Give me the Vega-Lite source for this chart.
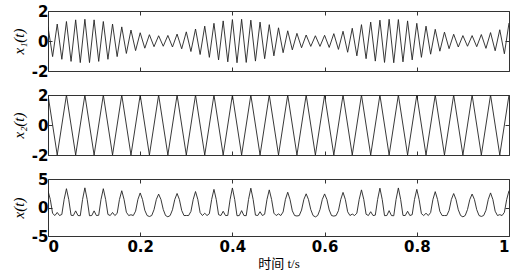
{
  "$schema": "https://vega.github.io/schema/vega-lite/v6.json",
  "background": "white",
  "padding": {"left": 10, "top": 3, "right": 9, "bottom": 5},
  "bounds": "flush",
  "spacing": 24,
  "config": {
    "view": {"stroke": "#333", "strokeWidth": 1},
    "axis": {"domain": false, "grid": false, "tickColor": "#333", "tickSize": -4, "tickWidth": 1,
      "labelFont": "DejaVu Sans", "labelFontWeight": "bold", "labelFontSize": 15, "labelColor": "#000", "labelPadding": 4,
      "titleFont": "Liberation Serif", "titleFontStyle": "italic", "titleFontWeight": "normal", "titleFontSize": 15, "titleColor": "#000", "titlePadding": 5}
  },
  "datasets": {
    "x1": [{"t":0,"v":0.94},{"t":0.01,"v":-1.04},{"t":0.02,"v":1.13},{"t":0.03,"v":-1.22},{"t":0.04,"v":1.3},{"t":0.05,"v":-1.36},{"t":0.06,"v":1.41},{"t":0.07,"v":-1.44},{"t":0.08,"v":1.45},{"t":0.09,"v":-1.44},{"t":0.1,"v":1.41},{"t":0.11,"v":-1.36},{"t":0.12,"v":1.3},{"t":0.13,"v":-1.22},{"t":0.14,"v":1.13},{"t":0.15,"v":-1.04},{"t":0.16,"v":0.94},{"t":0.17,"v":-0.83},{"t":0.18,"v":0.73},{"t":0.19,"v":-0.64},{"t":0.2,"v":0.55},{"t":0.21,"v":-0.48},{"t":0.22,"v":0.42},{"t":0.23,"v":-0.38},{"t":0.24,"v":0.35},{"t":0.25,"v":-0.35},{"t":0.26,"v":0.37},{"t":0.27,"v":-0.4},{"t":0.28,"v":0.46},{"t":0.29,"v":-0.52},{"t":0.3,"v":0.61},{"t":0.31,"v":-0.7},{"t":0.32,"v":0.8},{"t":0.33,"v":-0.9},{"t":0.34,"v":0.99},{"t":0.35,"v":-1.09},{"t":0.36,"v":1.18},{"t":0.37,"v":-1.26},{"t":0.38,"v":1.34},{"t":0.39,"v":-1.39},{"t":0.4,"v":1.43},{"t":0.41,"v":-1.45},{"t":0.42,"v":1.45},{"t":0.43,"v":-1.43},{"t":0.44,"v":1.39},{"t":0.45,"v":-1.34},{"t":0.46,"v":1.26},{"t":0.47,"v":-1.18},{"t":0.48,"v":1.09},{"t":0.49,"v":-0.99},{"t":0.5,"v":0.88},{"t":0.51,"v":-0.78},{"t":0.52,"v":0.68},{"t":0.53,"v":-0.59},{"t":0.54,"v":0.51},{"t":0.55,"v":-0.45},{"t":0.56,"v":0.4},{"t":0.57,"v":-0.36},{"t":0.58,"v":0.35},{"t":0.59,"v":-0.36},{"t":0.6,"v":0.38},{"t":0.61,"v":-0.43},{"t":0.62,"v":0.49},{"t":0.63,"v":-0.56},{"t":0.64,"v":0.65},{"t":0.65,"v":-0.75},{"t":0.66,"v":0.85},{"t":0.67,"v":-0.99},{"t":0.68,"v":1.09},{"t":0.69,"v":-1.18},{"t":0.7,"v":1.26},{"t":0.71,"v":-1.34},{"t":0.72,"v":1.39},{"t":0.73,"v":-1.43},{"t":0.74,"v":1.45},{"t":0.75,"v":-1.45},{"t":0.76,"v":1.43},{"t":0.77,"v":-1.39},{"t":0.78,"v":1.34},{"t":0.79,"v":-1.26},{"t":0.8,"v":1.18},{"t":0.81,"v":-1.09},{"t":0.82,"v":0.99},{"t":0.83,"v":-0.88},{"t":0.84,"v":0.78},{"t":0.85,"v":-0.68},{"t":0.86,"v":0.59},{"t":0.87,"v":-0.51},{"t":0.88,"v":0.45},{"t":0.89,"v":-0.4},{"t":0.9,"v":0.36},{"t":0.91,"v":-0.35},{"t":0.92,"v":0.36},{"t":0.93,"v":-0.38},{"t":0.94,"v":0.43},{"t":0.95,"v":-0.49},{"t":0.96,"v":0.56},{"t":0.97,"v":-0.65},{"t":0.98,"v":0.75},{"t":0.99,"v":-0.85},{"t":1,"v":1.2}],
    "x2": [{"t":0,"v":2},{"t":0.02,"v":-2},{"t":0.04,"v":2},{"t":0.06,"v":-2},{"t":0.08,"v":2},{"t":0.1,"v":-2},{"t":0.12,"v":2},{"t":0.14,"v":-2},{"t":0.16,"v":2},{"t":0.18,"v":-2},{"t":0.2,"v":2},{"t":0.22,"v":-2},{"t":0.24,"v":2},{"t":0.26,"v":-2},{"t":0.28,"v":2},{"t":0.3,"v":-2},{"t":0.32,"v":2},{"t":0.34,"v":-2},{"t":0.36,"v":2},{"t":0.38,"v":-2},{"t":0.4,"v":2},{"t":0.42,"v":-2},{"t":0.44,"v":2},{"t":0.46,"v":-2},{"t":0.48,"v":2},{"t":0.5,"v":-2},{"t":0.52,"v":2},{"t":0.54,"v":-2},{"t":0.56,"v":2},{"t":0.58,"v":-2},{"t":0.6,"v":2},{"t":0.62,"v":-2},{"t":0.64,"v":2},{"t":0.66,"v":-2},{"t":0.68,"v":2},{"t":0.7,"v":-2},{"t":0.72,"v":2},{"t":0.74,"v":-2},{"t":0.76,"v":2},{"t":0.78,"v":-2},{"t":0.8,"v":2},{"t":0.82,"v":-2},{"t":0.84,"v":2},{"t":0.86,"v":-2},{"t":0.88,"v":2},{"t":0.9,"v":-2},{"t":0.92,"v":2},{"t":0.94,"v":-2},{"t":0.96,"v":2},{"t":0.98,"v":-2},{"t":1,"v":2}],
    "x": [{"t":0,"v":2.94},{"t":0.005,"v":1.41},{"t":0.01,"v":-1.04},{"t":0.015,"v":-1.41},{"t":0.02,"v":-0.87},{"t":0.025,"v":-1.41},{"t":0.03,"v":-1.22},{"t":0.035,"v":1.41},{"t":0.04,"v":3.3},{"t":0.045,"v":1.41},{"t":0.05,"v":-1.36},{"t":0.055,"v":-1.41},{"t":0.06,"v":-0.59},{"t":0.065,"v":-1.41},{"t":0.07,"v":-1.44},{"t":0.075,"v":1.41},{"t":0.08,"v":3.45},{"t":0.085,"v":1.41},{"t":0.09,"v":-1.44},{"t":0.095,"v":-1.41},{"t":0.1,"v":-0.59},{"t":0.105,"v":-1.41},{"t":0.11,"v":-1.36},{"t":0.115,"v":1.41},{"t":0.12,"v":3.3},{"t":0.125,"v":1.41},{"t":0.13,"v":-1.22},{"t":0.135,"v":-1.41},{"t":0.14,"v":-0.87},{"t":0.145,"v":-1.41},{"t":0.15,"v":-1.04},{"t":0.155,"v":1.41},{"t":0.16,"v":2.94},{"t":0.165,"v":1.41},{"t":0.17,"v":-0.83},{"t":0.175,"v":-1.41},{"t":0.18,"v":-1.27},{"t":0.185,"v":-1.41},{"t":0.19,"v":-0.64},{"t":0.195,"v":1.41},{"t":0.2,"v":2.55},{"t":0.205,"v":1.41},{"t":0.21,"v":-0.48},{"t":0.215,"v":-1.41},{"t":0.22,"v":-1.58},{"t":0.225,"v":-1.41},{"t":0.23,"v":-0.38},{"t":0.235,"v":1.41},{"t":0.24,"v":2.35},{"t":0.245,"v":1.41},{"t":0.25,"v":-0.35},{"t":0.255,"v":-1.41},{"t":0.26,"v":-1.63},{"t":0.265,"v":-1.41},{"t":0.27,"v":-0.4},{"t":0.275,"v":1.41},{"t":0.28,"v":2.46},{"t":0.285,"v":1.41},{"t":0.29,"v":-0.52},{"t":0.295,"v":-1.41},{"t":0.3,"v":-1.4},{"t":0.305,"v":-1.41},{"t":0.31,"v":-0.7},{"t":0.315,"v":1.41},{"t":0.32,"v":2.8},{"t":0.325,"v":1.41},{"t":0.33,"v":-0.9},{"t":0.335,"v":-1.41},{"t":0.34,"v":-1.01},{"t":0.345,"v":-1.41},{"t":0.35,"v":-1.09},{"t":0.355,"v":1.41},{"t":0.36,"v":3.18},{"t":0.365,"v":1.41},{"t":0.37,"v":-1.26},{"t":0.375,"v":-1.41},{"t":0.38,"v":-0.66},{"t":0.385,"v":-1.41},{"t":0.39,"v":-1.39},{"t":0.395,"v":1.41},{"t":0.4,"v":3.43},{"t":0.405,"v":1.41},{"t":0.41,"v":-1.45},{"t":0.415,"v":-1.41},{"t":0.42,"v":-0.55},{"t":0.425,"v":-1.41},{"t":0.43,"v":-1.43},{"t":0.435,"v":1.41},{"t":0.44,"v":3.39},{"t":0.445,"v":1.41},{"t":0.45,"v":-1.34},{"t":0.455,"v":-1.41},{"t":0.46,"v":-0.74},{"t":0.465,"v":-1.41},{"t":0.47,"v":-1.18},{"t":0.475,"v":1.41},{"t":0.48,"v":3.09},{"t":0.485,"v":1.41},{"t":0.49,"v":-0.99},{"t":0.495,"v":-1.41},{"t":0.5,"v":-1.12},{"t":0.505,"v":-1.41},{"t":0.51,"v":-0.78},{"t":0.515,"v":1.41},{"t":0.52,"v":2.68},{"t":0.525,"v":1.41},{"t":0.53,"v":-0.59},{"t":0.535,"v":-1.41},{"t":0.54,"v":-1.49},{"t":0.545,"v":-1.41},{"t":0.55,"v":-0.45},{"t":0.555,"v":1.41},{"t":0.56,"v":2.4},{"t":0.565,"v":1.41},{"t":0.57,"v":-0.36},{"t":0.575,"v":-1.41},{"t":0.58,"v":-1.65},{"t":0.585,"v":-1.41},{"t":0.59,"v":-0.36},{"t":0.595,"v":1.41},{"t":0.6,"v":2.38},{"t":0.605,"v":1.41},{"t":0.61,"v":-0.43},{"t":0.615,"v":-1.41},{"t":0.62,"v":-1.51},{"t":0.625,"v":-1.41},{"t":0.63,"v":-0.56},{"t":0.635,"v":1.41},{"t":0.64,"v":2.65},{"t":0.645,"v":1.41},{"t":0.65,"v":-0.75},{"t":0.655,"v":-1.41},{"t":0.66,"v":-1.15},{"t":0.665,"v":-1.41},{"t":0.67,"v":-0.99},{"t":0.675,"v":1.41},{"t":0.68,"v":3.09},{"t":0.685,"v":1.41},{"t":0.69,"v":-1.18},{"t":0.695,"v":-1.41},{"t":0.7,"v":-0.74},{"t":0.705,"v":-1.41},{"t":0.71,"v":-1.34},{"t":0.715,"v":1.41},{"t":0.72,"v":3.39},{"t":0.725,"v":1.41},{"t":0.73,"v":-1.43},{"t":0.735,"v":-1.41},{"t":0.74,"v":-0.55},{"t":0.745,"v":-1.41},{"t":0.75,"v":-1.45},{"t":0.755,"v":1.41},{"t":0.76,"v":3.43},{"t":0.765,"v":1.41},{"t":0.77,"v":-1.39},{"t":0.775,"v":-1.41},{"t":0.78,"v":-0.66},{"t":0.785,"v":-1.41},{"t":0.79,"v":-1.26},{"t":0.795,"v":1.41},{"t":0.8,"v":3.18},{"t":0.805,"v":1.41},{"t":0.81,"v":-1.09},{"t":0.815,"v":-1.41},{"t":0.82,"v":-1.01},{"t":0.825,"v":-1.41},{"t":0.83,"v":-0.88},{"t":0.835,"v":1.41},{"t":0.84,"v":2.78},{"t":0.845,"v":1.41},{"t":0.85,"v":-0.68},{"t":0.855,"v":-1.41},{"t":0.86,"v":-1.41},{"t":0.865,"v":-1.41},{"t":0.87,"v":-0.51},{"t":0.875,"v":1.41},{"t":0.88,"v":2.45},{"t":0.885,"v":1.41},{"t":0.89,"v":-0.4},{"t":0.895,"v":-1.41},{"t":0.9,"v":-1.64},{"t":0.905,"v":-1.41},{"t":0.91,"v":-0.35},{"t":0.915,"v":1.41},{"t":0.92,"v":2.36},{"t":0.925,"v":1.41},{"t":0.93,"v":-0.38},{"t":0.935,"v":-1.41},{"t":0.94,"v":-1.57},{"t":0.945,"v":-1.41},{"t":0.95,"v":-0.49},{"t":0.955,"v":1.41},{"t":0.96,"v":2.56},{"t":0.965,"v":1.41},{"t":0.97,"v":-0.65},{"t":0.975,"v":-1.41},{"t":0.98,"v":-1.25},{"t":0.985,"v":-1.41},{"t":0.99,"v":-0.85},{"t":0.995,"v":1.41},{"t":1,"v":2.95}]
  },
  "vconcat": [
    {
      "width": 461, "height": 60,
      "data": {"name": "x1"},
      "layer": [
        {"mark": {"type": "line", "color": "#222", "strokeWidth": 0.9, "clip": true},
         "encoding": {
           "x": {"field": "t", "type": "quantitative", "scale": {"domain": [0, 1], "nice": false}, "axis": {"orient": "bottom", "values": [0, 0.2, 0.4, 0.6, 0.8, 1], "labels": false, "title": null}},
           "y": {"field": "v", "type": "quantitative", "scale": {"domain": [-2, 2], "nice": false}, "axis": {"orient": "left", "values": [-2, 0, 2], "title": "x₁(t)", "labelExpr": "datum.value < 0 ? '-' + abs(datum.value) : '' + datum.value"}}
         }},
        {"mark": {"type": "line", "strokeOpacity": 0},
         "encoding": {
           "x": {"field": "t", "type": "quantitative", "axis": {"orient": "top", "values": [0, 0.2, 0.4, 0.6, 0.8, 1], "labels": false, "title": null}},
           "y": {"field": "v", "type": "quantitative", "axis": {"orient": "right", "values": [-2, 0, 2], "labels": false, "title": null}}
         }}
      ],
      "resolve": {"axis": {"x": "independent", "y": "independent"}}
    },
    {
      "width": 461, "height": 60,
      "data": {"name": "x2"},
      "layer": [
        {"mark": {"type": "line", "color": "#222", "strokeWidth": 0.9, "clip": true},
         "encoding": {
           "x": {"field": "t", "type": "quantitative", "scale": {"domain": [0, 1], "nice": false}, "axis": {"orient": "bottom", "values": [0, 0.2, 0.4, 0.6, 0.8, 1], "labels": false, "title": null}},
           "y": {"field": "v", "type": "quantitative", "scale": {"domain": [-2, 2], "nice": false}, "axis": {"orient": "left", "values": [-2, 0, 2], "title": "x₂(t)", "labelExpr": "datum.value < 0 ? '-' + abs(datum.value) : '' + datum.value"}}
         }},
        {"mark": {"type": "line", "strokeOpacity": 0},
         "encoding": {
           "x": {"field": "t", "type": "quantitative", "axis": {"orient": "top", "values": [0, 0.2, 0.4, 0.6, 0.8, 1], "labels": false, "title": null}},
           "y": {"field": "v", "type": "quantitative", "axis": {"orient": "right", "values": [-2, 0, 2], "labels": false, "title": null}}
         }}
      ],
      "resolve": {"axis": {"x": "independent", "y": "independent"}}
    },
    {
      "width": 461, "height": 57,
      "data": {"name": "x"},
      "layer": [
        {"mark": {"type": "line", "color": "#222", "strokeWidth": 0.9, "clip": true},
         "encoding": {
           "x": {"field": "t", "type": "quantitative", "scale": {"domain": [0, 1], "nice": false}, "axis": {"orient": "bottom", "values": [0, 0.2, 0.4, 0.6, 0.8, 1], "labelExpr": "'' + datum.value", "labelPadding": 7, "title": "时间  t/s", "titleFont": "Liberation Serif, Noto Sans CJK SC", "titleFontStyle": "normal", "titleFontSize": 13, "titlePadding": 3}},
           "y": {"field": "v", "type": "quantitative", "scale": {"domain": [-5, 5], "nice": false}, "axis": {"orient": "left", "values": [-5, 0, 5], "title": "x(t)", "labelExpr": "datum.value < 0 ? '-' + abs(datum.value) : '' + datum.value"}}
         }},
        {"mark": {"type": "line", "strokeOpacity": 0},
         "encoding": {
           "x": {"field": "t", "type": "quantitative", "axis": {"orient": "top", "values": [0, 0.2, 0.4, 0.6, 0.8, 1], "labels": false, "title": null}},
           "y": {"field": "v", "type": "quantitative", "axis": {"orient": "right", "values": [-5, 0, 5], "labels": false, "title": null}}
         }}
      ],
      "resolve": {"axis": {"x": "independent", "y": "independent"}}
    }
  ]
}
